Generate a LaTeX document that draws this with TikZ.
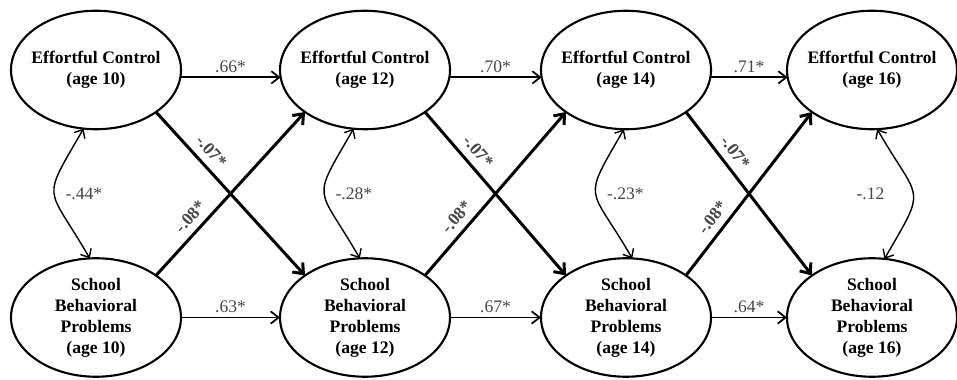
\documentclass[tikz,border=0pt]{standalone}
\usepackage{fontspec}
\setmainfont{Liberation Serif}
\usepackage{xcolor}
\usepackage{tikz}
\usetikzlibrary{shapes.geometric, arrows.meta, positioning}
\definecolor{coefgray}{RGB}{70,70,70}
\tikzset{
    latent/.style={
        ellipse,
        draw=black,
        line width=1.2pt,
        minimum width=3.4cm,
        minimum height=2.37cm,
        inner xsep=-0.15cm,
        inner ysep=0pt,
        outer sep=0pt,
        align=center,
        font=\bfseries
    },
    stability/.style={
        draw=black,
        line width=1pt,
        -{Straight Barb[length=4.5pt,width=7pt]}
    },
    crosslag/.style={
        draw=black,
        line width=1.7pt,
        -{Straight Barb[length=5pt,width=8pt]}
    },
    covariance/.style={
        draw=black,
        line width=0.8pt,
        {Straight Barb[length=4pt,width=7pt]}-{Straight Barb[length=4pt,width=7pt]}
    },
    coef/.style={
        text=coefgray,
        inner sep=2pt
    },
    crosscoef/.style={
        coef,
        font=\bfseries
    }
}

\begin{document}
\begin{tikzpicture}
\useasboundingbox (0,0) rectangle (19.14,-7.6);

% Effortful control
\node[latent] (ec10) at (1.92,-1.40) {Effortful Control\\(age 10)};
\node[latent, right=1.98cm of ec10] (ec12) {Effortful Control\\(age 12)};
\node[latent, right=1.82cm of ec12] (ec14) {Effortful Control\\(age 14)};
\node[latent, right=1.52cm of ec14] (ec16) {Effortful Control\\(age 16)};

% School behavioral problems
\node[latent, below=2.58cm of ec10] (sbp10) {School\\Behavioral\\Problems\\(age 10)};
\node[latent, below=2.58cm of ec12] (sbp12) {School\\Behavioral\\Problems\\(age 12)};
\node[latent, below=2.58cm of ec14] (sbp14) {School\\Behavioral\\Problems\\(age 14)};
\node[latent, below=2.58cm of ec16] (sbp16) {School\\Behavioral\\Problems\\(age 16)};

% Stability paths
\draw[stability] (ec10.-5) -- node[coef, above] {.66*} (ec12.185);
\draw[stability] (ec12.-5) -- node[coef, above] {.70*} (ec14.185);
\draw[stability] (ec14.-5) -- node[coef, above] {.71*} (ec16.185);
\draw[stability] (sbp10.east) -- node[coef, above] {.63*} (sbp12.west);
\draw[stability] (sbp12.east) -- node[coef, above] {.67*} (sbp14.west);
\draw[stability] (sbp14.east) -- node[coef, above] {.64*} (sbp16.west);

% Cross-lagged paths
\draw[crosslag] (ec10.-35) -- node[crosscoef, sloped, above=2pt, pos=0.3] {-.07*} (sbp12.145);
\draw[crosslag] (ec12.-35) -- node[crosscoef, sloped, above=2pt, pos=0.3] {-.07*} (sbp14.145);
\draw[crosslag] (ec14.-35) -- node[crosscoef, sloped, above=2pt, pos=0.3] {-.07*} (sbp16.145);
\draw[crosslag] (sbp10.35) -- node[crosscoef, sloped, above=2pt, pos=0.3] {-.08*} (ec12.-145);
\draw[crosslag] (sbp12.35) -- node[crosscoef, sloped, above=2pt, pos=0.3] {-.08*} (ec14.-145);
\draw[crosslag] (sbp14.35) -- node[crosscoef, sloped, above=2pt, pos=0.3] {-.08*} (ec16.-145);

% Within-time covariances
\draw[covariance] (ec10.258) to[out=-120, in=120, looseness=1.7] node[coef, right=4pt] {-.44*} (sbp10.96);
\draw[covariance] (ec12.259) to[out=-120, in=120, looseness=1.7] node[coef, right=4pt] {-.28*} (sbp12.95);
\draw[covariance] (ec14.268) to[out=-120, in=120, looseness=1.7] node[coef, right=4pt] {-.23*} (sbp14.84);
\draw[covariance] (ec16.275) to[out=-60, in=60, looseness=1.7] node[coef, left=14pt] {-.12} (sbp16.78);

\end{tikzpicture}
\end{document}
